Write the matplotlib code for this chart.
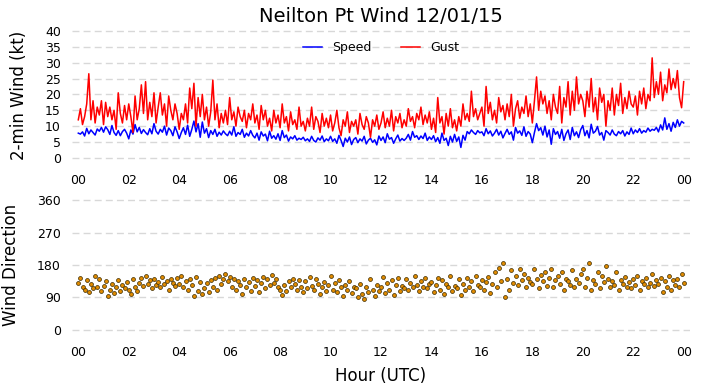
import numpy as np
import pandas as pd
import matplotlib
matplotlib.use("Agg")
import matplotlib.pyplot as plt
import matplotlib.dates as mdates

# 5-minute observations, 12/01/15 00:00 -> 12/02/15 00:00
times = pd.date_range("2015-12-01 00:00", periods=289, freq="5min")

# 2-min average wind speed (kt)
speed = [
    7.8, 7.5, 8.2, 6.9, 9.3, 7.6, 8.8, 8.0, 7.2, 9.1, 8.4, 9.6,
    8.1, 9.8, 8.9, 7.4, 10.2, 8.0, 7.1, 8.6, 7.0, 8.3, 9.0, 7.8,
    6.0, 8.8, 7.5, 10.5, 8.2, 9.6, 7.7, 8.9, 8.0, 7.3, 9.2, 7.6,
    10.8, 8.4, 7.5, 9.0, 8.1, 10.0, 7.2, 9.4, 8.6, 7.0, 9.8, 8.2,
    6.1, 8.0, 9.5, 7.4, 10.3, 6.8, 9.0, 11.6, 8.2, 10.8, 6.5, 11.3,
    7.8, 9.2, 6.4, 8.6, 7.4, 9.0, 6.8, 8.1, 7.2, 8.5, 7.6, 7.0,
    8.4, 7.2, 9.8, 6.8, 8.0, 7.4, 9.0, 6.5, 7.8, 6.9, 8.6, 7.1,
    6.3, 7.8, 5.6, 8.2, 6.9, 7.5, 5.4, 8.4, 6.2, 7.0, 5.9, 7.6,
    5.5, 8.6, 6.4, 7.2, 5.3, 6.6, 6.0, 7.0, 5.6, 6.2, 5.8, 6.5,
    5.4, 6.0, 5.2, 6.8, 5.5, 5.0, 6.3, 5.6, 6.9, 5.1, 6.0, 5.4,
    6.8, 5.2, 6.0, 4.6, 7.1, 5.5, 3.6, 6.2, 5.0, 6.6, 4.2, 5.8,
    6.4, 4.8, 6.0, 5.3, 6.8, 4.4, 5.6, 6.2, 4.9, 5.7, 4.1, 6.9,
    5.5, 6.6, 4.8, 7.6, 5.9, 6.4, 4.6, 6.0, 7.2, 5.3, 6.1, 5.5,
    6.2, 7.4, 5.6, 8.3, 6.5, 7.0, 5.8, 6.9, 6.1, 7.8, 5.5, 6.6,
    5.8, 7.0, 5.1, 6.4, 4.6, 7.8, 5.5, 6.2, 3.9, 6.8, 5.0, 7.4,
    5.2, 6.6, 3.3, 7.1, 5.6, 8.3, 7.6, 8.8, 8.0, 7.4, 8.6, 7.9,
    8.2, 7.0, 9.2, 7.6, 8.5, 6.9, 7.8, 9.0, 7.2, 8.4, 6.3, 7.7,
    9.0, 7.4, 8.2, 5.6, 9.6, 7.8, 8.5, 7.1, 9.8, 6.8, 8.3, 7.5,
    4.8, 8.0, 10.8, 8.6, 9.5, 7.2, 10.0, 6.6, 8.8, 4.3, 9.2, 7.4,
    8.3, 6.2, 9.0, 5.5, 7.6, 8.8, 5.8, 9.6, 7.0, 8.2, 6.4, 8.9,
    10.2, 7.0, 8.6, 6.3, 10.6, 7.8, 8.4, 9.9, 7.2, 8.0, 5.6, 8.6,
    8.0, 7.2, 8.8, 7.5, 7.0, 8.3, 7.6, 8.6, 6.9, 8.2, 7.4, 9.4,
    7.6, 8.8, 8.0, 9.2, 7.8, 8.6, 8.1, 9.4, 8.4, 9.0, 8.7, 9.6,
    8.2, 10.4, 8.8, 12.6, 9.0, 10.8, 8.4, 11.2, 9.6, 12.0, 10.0, 11.5,
    11.0,
]

# gust (kt)
gust = [
    12, 15.5, 10.5, 13, 17, 26.5, 12, 18, 11, 16, 13.5, 18,
    10.5, 17.5, 13, 16, 12, 15, 9, 20.5, 14, 11, 16.5, 12,
    17, 13, 8, 19.5, 12, 15.5, 23, 14, 24, 12, 17.5, 13,
    20.5, 11, 16, 20.5, 13.5, 17, 10, 19.5, 15, 12, 17, 14,
    9, 14, 12, 17, 11, 22, 15.5, 23.5, 10, 19, 13, 20,
    12, 16, 10, 14.5, 24.5, 12, 17, 9.5, 14, 11, 15, 10.5,
    19, 12, 14.5, 10, 16, 13, 11.5, 15, 9.5, 14, 12, 17,
    11, 13.5, 9, 16.5, 12, 15, 10, 12.5, 8.5, 15, 11, 13.5,
    9.5, 17, 11, 13, 8.5, 14.5, 10.5, 12, 9, 16, 10, 11.5,
    8.5, 12.5, 10, 16, 9, 13, 11.5, 8, 14, 10, 12.5, 9.5,
    13.5, 8.5, 11, 15, 9.5, 7, 12, 10, 14.5, 8, 11.5, 10,
    12, 7.5, 14, 10.5, 9, 13, 11, 6.5, 12, 10, 13.5, 9,
    11, 14.5, 9.5, 12.5, 10, 15, 8.5, 13, 11, 14, 9.5, 12,
    10, 15.5, 11.5, 13, 9.5, 14, 12, 16, 10.5, 13.5, 11, 14.5,
    9, 12.5, 8, 19, 11, 13, 7.5, 14, 10, 15.5, 9.5, 12,
    8.5, 13, 10, 17, 12, 14, 11.5, 21, 13, 15.5, 12, 14,
    16, 10, 22.5, 14, 17.5, 12, 15, 11, 19, 14.5, 16.5, 12,
    17, 13, 20, 10, 15.5, 18, 12.5, 16, 14, 19.5, 13, 17,
    11, 18, 25.5, 15, 21, 17, 19.5, 14, 18, 12, 20, 16,
    14, 22.5, 11, 19, 16, 24, 13.5, 21, 15, 25.5, 17, 20,
    18, 13, 21, 16, 25, 14.5, 19, 12, 22, 17.5, 20, 10,
    18, 15, 22, 13.5, 20, 16.5, 23.5, 14, 19, 15.5, 21, 17,
    16, 19.5, 13.5, 21, 17, 22, 15.5, 20, 18, 31.5, 19, 24,
    20, 27, 18, 23, 20.5, 28, 21.5, 25, 22, 27.5, 19, 15.8,
    24,
]

# wind direction (deg)
direction = [
    130, 145, 120, 112, 138, 105, 128, 115, 150, 118, 140, 108,
    122, 135, 95, 110, 128, 102, 118, 138, 108, 125, 115, 132,
    112, 100, 140, 118, 108, 130, 145, 122, 150, 128, 138, 115,
    142, 125, 132, 118, 148, 128, 135, 112, 140, 130, 122, 145,
    128, 150, 118, 135, 110, 140, 125, 95, 148, 108, 132, 100,
    115, 130, 105, 138, 120, 145, 112, 150, 128, 140, 155, 135,
    148, 120, 142, 110, 135, 125, 100, 140, 118, 132, 108, 145,
    122, 138, 105, 130, 148, 115, 140, 125, 152, 130, 142, 118,
    112, 98, 125, 108, 135, 118, 142, 128, 110, 138, 120, 105,
    135, 115, 148, 122, 110, 140, 128, 100, 118, 132, 108, 125,
    150, 112, 130, 105, 138, 118, 95, 125, 110, 135, 102, 120,
    115, 92, 128, 100, 85, 118, 105, 140, 110, 95, 125, 108,
    120, 148, 102, 130, 112, 138, 96, 125, 145, 108, 122, 115,
    140, 112, 130, 118, 150, 125, 108, 135, 120, 145, 115, 128,
    132, 105, 125, 145, 112, 138, 100, 128, 118, 150, 108, 122,
    115, 140, 98, 128, 112, 145, 120, 135, 108, 150, 125, 118,
    138, 110, 132, 148, 102, 128, 160, 118, 172, 135, 185, 90,
    140, 112, 165, 130, 150, 125, 170, 138, 155, 120, 145, 132,
    128, 168, 140, 115, 152, 135, 160, 122, 145, 170, 118, 138,
    150, 128, 160, 112, 142, 135, 125, 165, 118, 140, 130, 155,
    170, 120, 145, 185, 110, 138, 128, 160, 115, 150, 132, 178,
    142, 118, 135, 125, 160, 112, 138, 128, 148, 120, 132, 115,
    140, 125, 150, 112, 135, 128, 145, 118, 130, 155, 122, 138,
    128, 145, 105, 135, 120, 150, 110, 138, 125, 142, 118, 155,
    130,
]

wind_ticks = [0, 5, 10, 15, 20, 25, 30, 35, 40]
dir_ticks = [0, 90, 180, 270, 360]

fig = plt.figure(figsize=(7.02, 3.88), dpi=100)
ax1 = fig.add_axes([72 / 702, 1 - 163 / 388, 618 / 702, 135 / 388])
ax2 = fig.add_axes([72 / 702, 1 - 335 / 388, 618 / 702, 140 / 388])

x0 = times[0] - pd.Timedelta(minutes=15)
x1 = times[-1] + pd.Timedelta(minutes=15)

ax1.plot(times, speed, color="blue", lw=1.1, label="Speed")
ax1.plot(times, gust, color="red", lw=1.1, label="Gust")
ax1.set_ylim(-1.6, 40.9)
ax1.set_yticks(wind_ticks)
ax1.set_ylabel("2-min Wind (kt)", fontsize=12, labelpad=12)
ax1.set_title("Neilton Pt Wind 12/01/15", fontsize=14, pad=4)
ax1.legend(loc="upper center", bbox_to_anchor=(0.5, 0.985), ncol=2, frameon=False,
           fontsize=9, handlelength=1.5, columnspacing=2.4)

ax2.scatter(times, direction, s=8, color="#e08a00", edgecolors="#3a2a00",
            linewidths=0.5, zorder=3)
ax2.set_ylim(-14, 374)
ax2.set_yticks(dir_ticks)
ax2.set_ylabel("Wind Direction", fontsize=12, labelpad=12)
ax2.set_xlabel("Hour (UTC)", fontsize=12, labelpad=6)

for ax in (ax1, ax2):
    ax.set_xlim(x0, x1)
    ax.xaxis.set_major_locator(mdates.HourLocator(byhour=range(0, 24, 2)))
    ax.xaxis.set_major_formatter(mdates.DateFormatter("%H"))
    for s in ax.spines.values():
        s.set_visible(False)
    ax.tick_params(length=0, labelsize=9, pad=8)
    ax.grid(axis="y", color="#d8d8d8", lw=1.0, ls=(0, (5, 3)))
    ax.set_axisbelow(True)

fig.savefig("out.png", dpi=100)
